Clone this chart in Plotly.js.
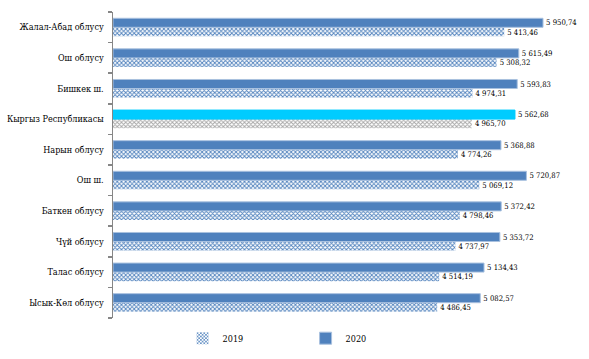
<!DOCTYPE html>
<html>
<head>
<meta charset="utf-8">
<script src="https://cdn.plot.ly/plotly-3.0.1.min.js"></script>
<style>html,body{margin:0;padding:0;background:#fff}#chart{width:589px;height:359px}</style>
</head>
<body>
<div id="chart"></div>
<script>
// Categories listed bottom-to-top
const categories = ["Ысык-Көл облусу","Талас облусу","Чүй облусу","Баткен облусу","Ош ш.","Нарын облусу","Кыргыз Республикасы","Бишкек ш.","Ош облусу","Жалал-Абад облусу"];
const values2019 = [4486.45, 4514.19, 4737.97, 4798.46, 5069.12, 4774.26, 4965.70, 4974.31, 5308.32, 5413.46];
const values2020 = [5082.57, 5134.43, 5353.72, 5372.42, 5720.87, 5368.88, 5562.68, 5593.83, 5615.49, 5950.74];
const highlight = "Кыргыз Республикасы";

const fg2019 = categories.map(c => c === highlight ? "#A6A6A6" : "#4F81BD");
const col2020 = categories.map(c => c === highlight ? "#00CCFF" : "#4F81BD");
const line2020 = categories.map(c => c === highlight ? "#00CCFF" : "#A9C1DF");

const font = {family: "DejaVu Serif Condensed, DejaVu Serif", size: 9, color: "#000"};
const valFont = {family: "DejaVu Serif Condensed, DejaVu Serif", size: 8.5, color: "#000"};

const traces = [
  {
    type: "bar", orientation: "h", name: "2019",
    y: categories, x: values2019,
    marker: {color: "#FFFFFF", line: {width: 0},
      pattern: {shape: "x", fgcolor: fg2019, bgcolor: "#FFFFFF", size: 3, solidity: 0.5, fillmode: "replace"}},
    text: values2019, texttemplate: "%{x:,.2f}", textposition: "outside", cliponaxis: false,
    textfont: valFont, hoverinfo: "skip"
  },
  {
    type: "bar", orientation: "h", name: "2020",
    y: categories, x: values2020,
    marker: {color: col2020, line: {color: line2020, width: 1}},
    text: values2020, texttemplate: "%{x:,.2f}", textposition: "outside", cliponaxis: false,
    textfont: valFont, hoverinfo: "skip"
  }
];

const layout = {
  width: 589, height: 359,
  margin: {l: 113, r: 0, t: 12, b: 41},
  paper_bgcolor: "#FFFFFF", plot_bgcolor: "#FFFFFF",
  separators: ", ",
  font: font,
  barmode: "group", bargap: 0.41, bargroupgap: 0,
  xaxis: {range: [0, 6587], visible: false, showgrid: false, zeroline: false, fixedrange: true},
  yaxis: {type: "category", showline: true, linecolor: "#868686", linewidth: 1.5,
    ticks: "outside", tickson: "boundaries", ticklen: 4, tickcolor: "#868686", tickwidth: 1.5,
    showgrid: false, zeroline: false, tickfont: font, ticklabelstandoff: 6, automargin: false},
  showlegend: true,
  legend: {orientation: "h", xref: "container", yref: "container", x: 0.31, xanchor: "left",
    y: 0.058, yanchor: "middle", font: font, entrywidth: 78, entrywidthmode: "pixels",
    traceorder: "normal", itemwidth: 30}
};

Plotly.newPlot("chart", traces, layout, {staticPlot: true, displayModeBar: false});
</script>
</body>
</html>
